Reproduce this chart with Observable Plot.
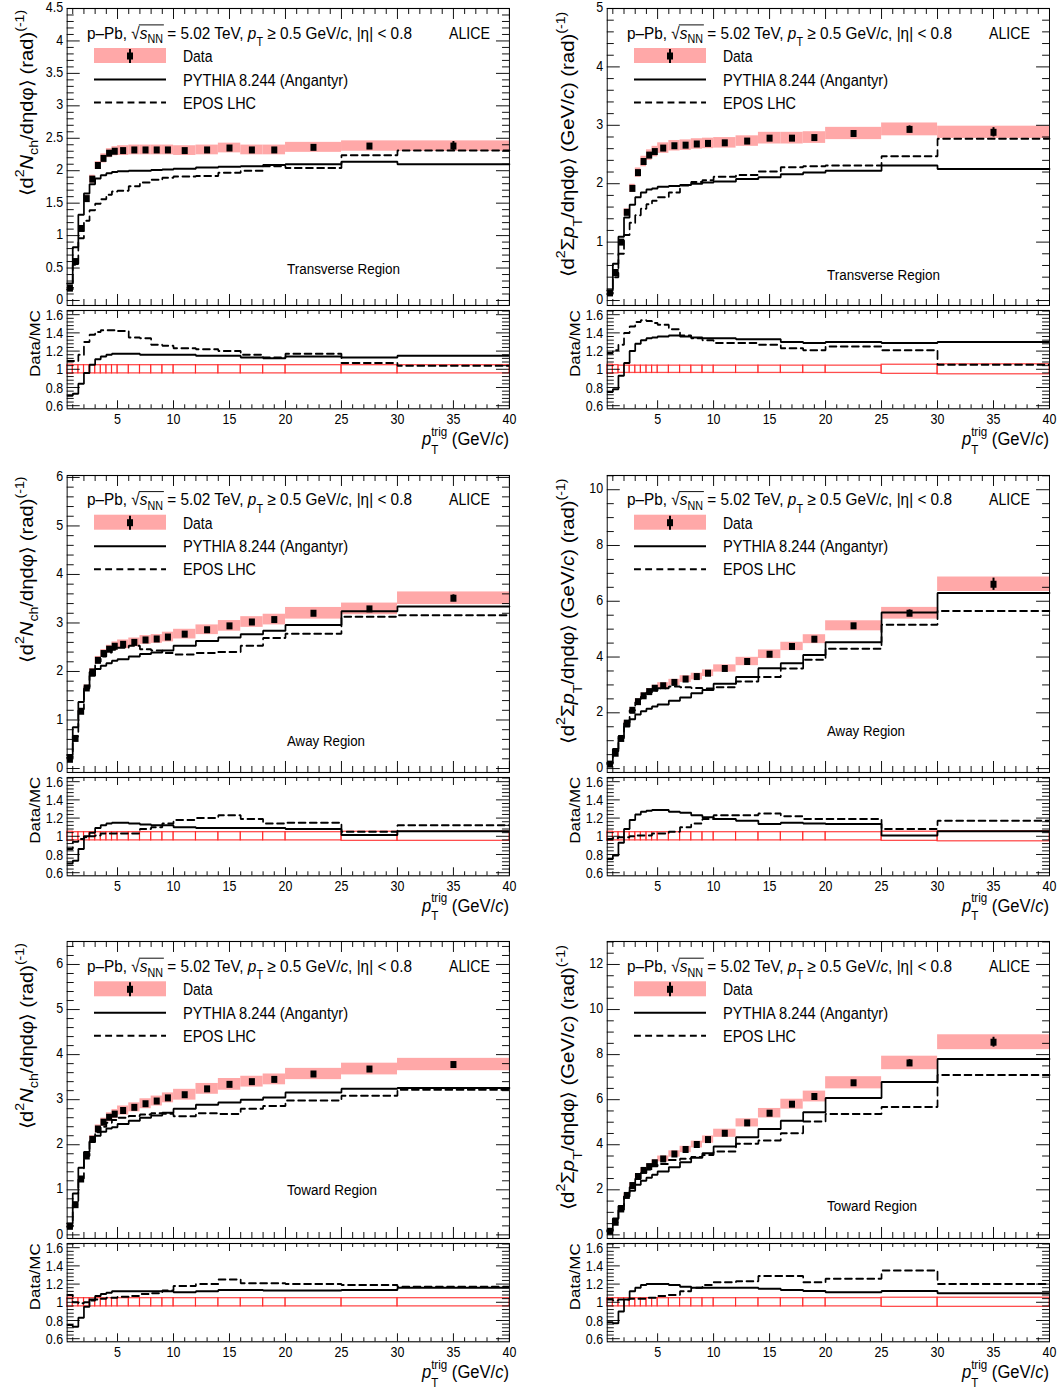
<!DOCTYPE html>
<html><head><meta charset="utf-8">
<script src="https://cdn.jsdelivr.net/npm/d3@7"></script>
<script src="https://cdn.jsdelivr.net/npm/@observablehq/plot@0.6"></script>
<style>
html,body{margin:0;padding:0;background:#fff;}
#wrap{position:relative;width:1059px;height:1394px;overflow:hidden;background:#fff;}
#stage{position:absolute;left:0;top:0;width:1231.4px;height:1394px;transform:scaleX(0.86);transform-origin:0 0;}
#stage svg{position:absolute;}
</style></head><body><div id="wrap"><div id="stage"></div></div>
<script>
// ---------------- data ----------------
const binLow  = [0.5,1,1.5,2,2.5,3,3.5,4,4.5,5,6,7,8,9,10,12,14,16,18,20,25,30];
const binHigh = [1,1.5,2,2.5,3,3.5,4,4.5,5,6,7,8,9,10,12,14,16,18,20,25,30,40];
const xMajorTicks = [5,10,15,20,25,30,35,40];
const ratioTicks = [0.6,0.8,1,1.2,1.4,1.6];
const yTicks_transN = [0,0.5,1,1.5,2,2.5,3,3.5,4,4.5];
const yTicks_transPt = [0,1,2,3,4,5];
const yTicks_awayN = [0,1,2,3,4,5,6];
const yTicks_awayPt = [0,2,4,6,8,10];
const yTicks_towN = [0,1,2,3,4,5,6];
const yTicks_towPt = [0,2,4,6,8,10,12];

// Transverse, number density
const transN_data   = [0.19,0.60,1.11,1.57,1.87,2.08,2.19,2.27,2.30,2.31,2.32,2.32,2.32,2.32,2.31,2.32,2.35,2.32,2.32,2.36,2.38,2.38];
const transN_sys    = [0.01,0.02,0.04,0.05,0.06,0.06,0.07,0.07,0.07,0.075,0.075,0.075,0.075,0.075,0.075,0.075,0.075,0.075,0.075,0.077,0.08,0.08];
const transN_stat   = [0,0,0,0,0,0,0,0,0,0,0,0,0,0,0,0,0.01,0.01,0.01,0.02,0.04,0.07];
const transN_pythia = [0.26,0.82,1.32,1.65,1.79,1.88,1.93,1.96,1.98,1.99,2.00,2.00,2.01,2.02,2.03,2.05,2.06,2.07,2.09,2.10,2.14,2.10];
const transN_epos   = [0.17,0.55,0.96,1.23,1.39,1.49,1.56,1.63,1.68,1.69,1.76,1.82,1.86,1.89,1.91,1.92,1.97,2.00,2.07,2.04,2.24,2.31];
const transN_ratioPythia = [0.71,0.73,0.84,0.96,1.05,1.11,1.14,1.16,1.17,1.17,1.17,1.16,1.16,1.16,1.16,1.15,1.15,1.13,1.12,1.14,1.13,1.15];
const transN_ratioEpos   = [1.09,1.09,1.16,1.30,1.38,1.41,1.43,1.43,1.43,1.42,1.35,1.34,1.27,1.26,1.23,1.22,1.20,1.16,1.13,1.17,1.07,1.04];
const transN_ratioErr    = [0.05,0.045,0.045,0.045,0.045,0.045,0.045,0.045,0.045,0.045,0.045,0.045,0.045,0.045,0.045,0.045,0.045,0.045,0.045,0.045,0.045,0.045];

// Transverse, summed pT density
const transPt_data   = [0.13,0.48,1.00,1.51,1.92,2.19,2.38,2.49,2.55,2.61,2.65,2.66,2.68,2.69,2.70,2.73,2.78,2.78,2.79,2.86,2.93,2.88];
const transPt_sys    = [0.01,0.02,0.04,0.06,0.07,0.08,0.09,0.09,0.09,0.09,0.09,0.09,0.09,0.09,0.09,0.09,0.10,0.10,0.10,0.105,0.11,0.105];
const transPt_stat   = [0,0,0,0,0,0,0,0,0,0,0,0,0,0,0,0,0.01,0.01,0.02,0.03,0.06,0.08];
const transPt_pythia = [0.17,0.63,1.09,1.42,1.64,1.77,1.85,1.90,1.92,1.95,1.96,1.98,2.00,2.02,2.04,2.08,2.11,2.16,2.19,2.22,2.31,2.25];
const transPt_epos   = [0.11,0.40,0.80,1.12,1.33,1.46,1.57,1.65,1.71,1.77,1.85,1.97,2.03,2.06,2.12,2.15,2.21,2.28,2.30,2.31,2.47,2.77];
const transPt_ratioPythia = [0.75,0.78,0.93,1.07,1.20,1.28,1.32,1.34,1.35,1.36,1.37,1.36,1.35,1.34,1.34,1.33,1.33,1.30,1.29,1.30,1.29,1.30];
const transPt_ratioEpos   = [1.18,1.21,1.27,1.40,1.47,1.52,1.54,1.53,1.51,1.49,1.44,1.37,1.34,1.32,1.29,1.29,1.27,1.23,1.21,1.25,1.21,1.05];
const transPt_ratioErr    = [0.05,0.045,0.04,0.04,0.04,0.04,0.04,0.04,0.04,0.04,0.04,0.04,0.04,0.04,0.04,0.04,0.04,0.04,0.04,0.04,0.05,0.055];

// Away, number density
const awayN_data   = [0.19,0.62,1.18,1.66,1.99,2.23,2.37,2.46,2.52,2.56,2.60,2.65,2.67,2.71,2.77,2.86,2.94,3.02,3.07,3.20,3.29,3.51];
const awayN_sys    = [0.01,0.03,0.05,0.06,0.07,0.08,0.08,0.08,0.09,0.09,0.09,0.09,0.09,0.10,0.10,0.10,0.11,0.11,0.11,0.12,0.12,0.13];
const awayN_stat   = [0,0,0,0,0,0,0,0,0,0,0,0,0,0,0,0,0.01,0.01,0.02,0.03,0.04,0.07];
const awayN_pythia = [0.28,0.85,1.37,1.65,1.91,2.05,2.12,2.17,2.22,2.25,2.31,2.36,2.39,2.43,2.53,2.63,2.70,2.77,2.84,2.96,3.24,3.34];
const awayN_epos   = [0.22,0.66,1.22,1.68,1.99,2.20,2.31,2.39,2.45,2.49,2.53,2.46,2.43,2.38,2.35,2.38,2.40,2.53,2.69,2.78,3.13,3.16];
const awayN_ratioPythia = [0.70,0.73,0.86,1.00,1.04,1.09,1.12,1.14,1.15,1.15,1.14,1.13,1.12,1.12,1.10,1.09,1.09,1.09,1.09,1.08,1.015,1.055];
const awayN_ratioEpos   = [0.86,0.94,0.97,0.99,1.00,1.01,1.03,1.03,1.03,1.03,1.03,1.08,1.10,1.14,1.18,1.20,1.23,1.19,1.14,1.15,1.05,1.12];
const awayN_ratioErr    = [0.05,0.045,0.045,0.045,0.045,0.045,0.045,0.045,0.045,0.045,0.045,0.045,0.045,0.045,0.045,0.045,0.045,0.045,0.045,0.045,0.05,0.05];

// Away, summed pT density
const awayPt_data   = [0.16,0.55,1.08,1.63,2.09,2.40,2.61,2.76,2.88,2.97,3.09,3.21,3.30,3.42,3.59,3.84,4.10,4.38,4.64,5.12,5.57,6.61];
const awayPt_sys    = [0.01,0.03,0.05,0.07,0.09,0.10,0.10,0.11,0.11,0.11,0.11,0.12,0.12,0.12,0.13,0.15,0.155,0.15,0.16,0.18,0.21,0.26];
const awayPt_stat   = [0,0,0,0,0,0,0,0,0,0,0,0,0,0,0.01,0.02,0.02,0.03,0.04,0.06,0.12,0.22];
const awayPt_pythia = [0.21,0.70,1.16,1.51,1.77,1.94,2.06,2.15,2.23,2.30,2.43,2.55,2.70,2.82,3.04,3.28,3.60,3.78,4.07,4.53,5.60,6.30];
const awayPt_epos   = [0.165,0.56,1.09,1.64,2.09,2.38,2.58,2.73,2.80,2.88,2.94,2.92,2.89,2.87,2.92,3.12,3.28,3.59,3.90,4.30,5.16,5.65];
const awayPt_ratioPythia = [0.75,0.79,0.93,1.08,1.18,1.24,1.27,1.28,1.29,1.29,1.27,1.26,1.23,1.21,1.19,1.17,1.135,1.15,1.14,1.135,1.01,1.055];
const awayPt_ratioEpos   = [0.97,0.98,0.99,0.99,1.00,1.01,1.01,1.01,1.03,1.03,1.05,1.10,1.14,1.19,1.23,1.23,1.25,1.22,1.19,1.19,1.08,1.17];
const awayPt_ratioErr    = [0.05,0.045,0.045,0.045,0.045,0.045,0.045,0.045,0.045,0.045,0.045,0.045,0.045,0.045,0.045,0.045,0.045,0.045,0.045,0.045,0.05,0.055];

// Toward, number density
const towN_data   = [0.19,0.67,1.24,1.75,2.12,2.35,2.50,2.61,2.68,2.76,2.83,2.91,2.97,3.04,3.11,3.24,3.34,3.40,3.45,3.57,3.68,3.78];
const towN_sys    = [0.01,0.03,0.05,0.07,0.08,0.09,0.09,0.10,0.10,0.10,0.10,0.11,0.11,0.11,0.12,0.12,0.13,0.12,0.12,0.125,0.13,0.137];
const towN_stat   = [0,0,0,0,0,0,0,0,0,0,0,0,0,0,0,0,0.01,0.01,0.01,0.02,0.03,0.05];
const towN_pythia = [0.25,0.92,1.49,1.84,2.06,2.20,2.29,2.36,2.39,2.46,2.53,2.60,2.65,2.71,2.80,2.89,2.94,3.00,3.05,3.16,3.24,3.26];
const towN_epos   = [0.18,0.67,1.25,1.75,2.08,2.28,2.40,2.49,2.55,2.60,2.64,2.67,2.70,2.69,2.63,2.70,2.68,2.80,2.86,2.98,3.09,3.22];
const towN_ratioPythia = [0.75,0.73,0.83,0.95,1.03,1.07,1.09,1.105,1.12,1.12,1.12,1.12,1.12,1.12,1.11,1.12,1.135,1.135,1.13,1.13,1.135,1.16];
const towN_ratioEpos   = [1.08,1.00,0.99,1.00,1.02,1.03,1.04,1.05,1.05,1.06,1.07,1.09,1.10,1.13,1.18,1.20,1.25,1.21,1.21,1.20,1.19,1.17];
const towN_ratioErr    = [0.05,0.045,0.045,0.045,0.045,0.045,0.045,0.045,0.045,0.045,0.045,0.045,0.045,0.045,0.045,0.045,0.045,0.045,0.045,0.045,0.045,0.045];

// Toward, summed pT density
const towPt_data   = [0.16,0.56,1.15,1.75,2.19,2.59,2.86,3.03,3.20,3.37,3.59,3.79,4.01,4.23,4.51,4.97,5.40,5.80,6.14,6.75,7.63,8.55];
const towPt_sys    = [0.01,0.03,0.06,0.08,0.10,0.11,0.12,0.12,0.13,0.13,0.14,0.14,0.15,0.16,0.18,0.18,0.21,0.22,0.24,0.27,0.30,0.33];
const towPt_stat   = [0,0,0,0,0,0,0,0,0,0,0,0,0,0,0.01,0.02,0.03,0.04,0.05,0.08,0.15,0.22];
const towPt_pythia = [0.21,0.73,1.28,1.70,1.96,2.23,2.40,2.53,2.67,2.81,3.00,3.22,3.42,3.62,3.92,4.33,4.70,5.07,5.44,6.08,6.78,7.81];
const towPt_epos   = [0.155,0.55,1.12,1.70,2.11,2.49,2.75,2.90,3.05,3.15,3.32,3.38,3.46,3.55,3.70,4.04,4.19,4.51,5.03,5.37,5.67,7.10];
const towPt_ratioPythia = [0.78,0.77,0.90,1.03,1.12,1.16,1.19,1.20,1.20,1.20,1.19,1.17,1.16,1.16,1.16,1.16,1.15,1.135,1.125,1.11,1.125,1.10];
const towPt_ratioEpos   = [1.03,1.02,1.03,1.03,1.04,1.04,1.04,1.05,1.05,1.07,1.08,1.12,1.16,1.19,1.22,1.23,1.29,1.29,1.22,1.26,1.35,1.20];
const towPt_ratioErr    = [0.045,0.045,0.045,0.045,0.045,0.045,0.045,0.045,0.045,0.045,0.045,0.045,0.045,0.045,0.045,0.045,0.045,0.045,0.045,0.045,0.05,0.05];

// ---------------- layout ----------------
const S = 0.86;                       // horizontal squeeze of the reference
const PINK = "#ffa8a8";
const FONT = "'Liberation Sans', Arial, Helvetica, sans-serif";
const colX = [0, 540];
const rowY = [0, 466.7, 933.3];
const stage = document.getElementById("stage");

const panels = [
  {r:0,c:0,kind:"N", region:"Transverse Region", regBase:274, regW:113, yDomain:[-0.077,4.5], yMajor:yTicks_transN, yMinor:0.1,
   data:transN_data, sys:transN_sys, stat:transN_stat, pythia:transN_pythia, epos:transN_epos, rp:transN_ratioPythia, re:transN_ratioEpos, rerr:transN_ratioErr},
  {r:0,c:1,kind:"Pt", region:"Transverse Region", regBase:280, regW:113, yDomain:[-0.085,5], yMajor:yTicks_transPt, yMinor:0.2,
   data:transPt_data, sys:transPt_sys, stat:transPt_stat, pythia:transPt_pythia, epos:transPt_epos, rp:transPt_ratioPythia, re:transPt_ratioEpos, rerr:transPt_ratioErr},
  {r:1,c:0,kind:"N", region:"Away Region", regBase:279.5, regW:78, yDomain:[-0.082,6.04], yMajor:yTicks_awayN, yMinor:0.2,
   data:awayN_data, sys:awayN_sys, stat:awayN_stat, pythia:awayN_pythia, epos:awayN_epos, rp:awayN_ratioPythia, re:awayN_ratioEpos, rerr:awayN_ratioErr},
  {r:1,c:1,kind:"Pt", region:"Away Region", regBase:269.5, regW:78, yDomain:[-0.14,10.51], yMajor:yTicks_awayPt, yMinor:0.5,
   data:awayPt_data, sys:awayPt_sys, stat:awayPt_stat, pythia:awayPt_pythia, epos:awayPt_epos, rp:awayPt_ratioPythia, re:awayPt_ratioEpos, rerr:awayPt_ratioErr},
  {r:2,c:0,kind:"N", region:"Toward Region", regBase:262, regW:90, yDomain:[-0.08,6.51], yMajor:yTicks_towN, yMinor:0.2,
   data:towN_data, sys:towN_sys, stat:towN_stat, pythia:towN_pythia, epos:towN_epos, rp:towN_ratioPythia, re:towN_ratioEpos, rerr:towN_ratioErr},
  {r:2,c:1,kind:"Pt", region:"Toward Region", regBase:277.4, regW:90, yDomain:[-0.16,13.02], yMajor:yTicks_towPt, yMinor:0.5,
   data:towPt_data, sys:towPt_sys, stat:towPt_stat, pythia:towPt_pythia, epos:towPt_epos, rp:towPt_ratioPythia, re:towPt_ratioEpos, rerr:towPt_ratioErr}
];

const xMinorTicks = d3.range(1, 40).filter(v => v % 5 !== 0);
const fmt = v => String(+(+v).toFixed(2));
function minorTicks(lo, hi, step, major) {
  const out = [];
  for (let k = Math.ceil(lo/step - 1e-9); k*step <= hi + 1e-9; k++) {
    const v = +(k*step).toFixed(4);
    if (!major.some(m => Math.abs(m - v) < 1e-6)) out.push(v);
  }
  return out;
}
function stepPts(arr) {
  const pts = binLow.map((lo, i) => ({x: lo, y: arr[i]}));
  pts.push({x: binHigh[binHigh.length - 1], y: arr[arr.length - 1]});
  return pts;
}

const W = 519 / S, ML = 66.7 / S, MR = W - 509 / S, FW = W - ML - MR;
const YTmaj = 13 / S, YTmin = 7 / S;

function tickMarks(FH, yMajor, yMinor, xMaj, xMin) {
  const k = {stroke: "black", strokeWidth: 1};
  return [
    Plot.ruleY(yMajor, {...k, insetRight: FW - YTmaj}),
    Plot.ruleY(yMajor, {...k, insetLeft: FW - YTmaj}),
    Plot.ruleY(yMinor, {...k, insetRight: FW - YTmin}),
    Plot.ruleY(yMinor, {...k, insetLeft: FW - YTmin}),
    Plot.ruleX(xMajorTicks, {...k, insetTop: FH - xMaj}),
    Plot.ruleX(xMajorTicks, {...k, insetBottom: FH - xMaj}),
    Plot.ruleX(xMinorTicks, {...k, insetTop: FH - xMin}),
    Plot.ruleX(xMinorTicks, {...k, insetBottom: FH - xMin})
  ];
}

function mainPlot(p) {
  const H = 305, MT = 8, FH = H - MT;
  const rows = binLow.map((lo, i) => ({lo, hi: binHigh[i], x: (lo + binHigh[i]) / 2, v: p.data[i], s: p.sys[i], st: p.stat[i]}));
  const yMin = minorTicks(0, p.yDomain[1], p.yMinor, p.yMajor);
  const svg = Plot.plot({
    width: W, height: H, marginLeft: ML, marginRight: MR, marginTop: MT, marginBottom: 0,
    x: {domain: [0.5, 40], axis: null},
    y: {domain: p.yDomain, axis: null},
    style: {fontFamily: FONT, fontSize: "14.5px", color: "black", background: "transparent", overflow: "visible"},
    marks: [
      Plot.rect(rows, {x1: "lo", x2: "hi", y1: d => d.v - d.s, y2: d => d.v + d.s, fill: PINK}),
      Plot.line(stepPts(p.pythia), {x: "x", y: "y", curve: "step-after", stroke: "black", strokeWidth: 2, strokeLinejoin: "miter"}),
      Plot.line(stepPts(p.epos), {x: "x", y: "y", curve: "step-after", stroke: "black", strokeWidth: 2, strokeDasharray: "8,5", strokeLinejoin: "miter"}),
      Plot.ruleX(rows.filter(d => d.st > 0), {x: "x", y1: d => d.v - d.st, y2: d => d.v + d.st, stroke: "black", strokeWidth: 2.3}),
      Plot.dot(rows, {x: "x", y: "v", symbol: "square", r: 3.95, fill: "black", stroke: "none"}),
      ...tickMarks(FH, p.yMajor, yMin, 11, 6),
      Plot.frame({stroke: "black", strokeWidth: 1.1}),
      Plot.text(p.yMajor, {y: d => d, text: fmt, frameAnchor: "left", textAnchor: "end", dx: -4.7, dy: -1, lineAnchor: "middle", fontSize: 14.5, fill: "black"})
    ]
  });
  svg.style.left = (colX[p.c] / S) + "px";
  svg.style.top = rowY[p.r] + "px";
  stage.appendChild(svg);
}

function ratioPlot(p) {
  const H = 160, MT = 5, FH = 98.3, MB = H - MT - FH;
  const rows = binLow.map((lo, i) => ({lo, hi: binHigh[i], e: p.rerr[i]}));
  const yMin = minorTicks(0.6, 1.646, 0.04, ratioTicks);
  const svg = Plot.plot({
    width: W, height: H, marginLeft: ML, marginRight: MR, marginTop: MT, marginBottom: MB,
    x: {domain: [0.5, 40], axis: null},
    y: {domain: [0.566, 1.646], axis: null},
    style: {fontFamily: FONT, fontSize: "14.5px", color: "black", background: "transparent", overflow: "visible"},
    marks: [
      Plot.rect(rows, {x1: "lo", x2: "hi", y1: d => 1 - d.e, y2: d => 1 + d.e, fill: "none", stroke: "#ff2020", strokeOpacity: 0.8, strokeWidth: 1.3}),
      Plot.line(stepPts(p.rp), {x: "x", y: "y", curve: "step-after", stroke: "black", strokeWidth: 2, strokeLinejoin: "miter", clip: true}),
      Plot.line(stepPts(p.re), {x: "x", y: "y", curve: "step-after", stroke: "black", strokeWidth: 2, strokeDasharray: "8,5", strokeLinejoin: "miter", clip: true}),
      ...tickMarks(FH, ratioTicks, yMin, 8, 4),
      Plot.frame({stroke: "black", strokeWidth: 1.1}),
      Plot.text(ratioTicks, {y: d => d, text: fmt, frameAnchor: "left", textAnchor: "end", dx: -4.7, dy: 0.5, lineAnchor: "middle", fontSize: 14.5, fill: "black"}),
      Plot.text(xMajorTicks, {x: d => d, text: fmt, frameAnchor: "bottom", dy: 11, lineAnchor: "middle", fontSize: 14.5, fill: "black"})
    ]
  });
  svg.style.left = (colX[p.c] / S) + "px";
  svg.style.top = (rowY[p.r] + 305) + "px";
  stage.appendChild(svg);
}

panels.forEach(p => { mainPlot(p); ratioPlot(p); });

// ---------------- overlay: texts and legend ----------------
const ov = d3.create("svg").attr("width", 1059 / S).attr("height", 1394)
  .style("left", "0px").style("top", "0px").style("font-family", FONT).style("pointer-events", "none");
stage.appendChild(ov.node());

function build(parent, parts, size) {
  const t = parent.append("text").attr("font-size", size).style("white-space", "pre").attr("fill", "black");
  let shift = 0, prev = null;
  for (const [s, st = ""] of parts) {
    const ts = t.append("tspan").text(s);
    let target = 0, fs = size;
    if (st.includes("b")) { target = 0.28 * size; fs = 0.7 * size; }
    if (st.includes("B")) { target = 0.45 * size; fs = 0.7 * size; }
    if (st.includes("p")) { target = -0.5 * size; fs = 0.7 * size; }
    if (fs !== size) ts.attr("font-size", fs);
    if (Math.abs(target - shift) > 1e-6) ts.attr("dy", target - shift);
    shift = target;
    if (st.includes("i")) ts.attr("font-style", "italic");
    if (st.includes("s") && prev) ts.attr("dx", -prev.node().getComputedTextLength());
    prev = ts;
  }
  return t;
}
function place(parts, o) {
  const g = ov.append("g");
  const t = build(g, parts, o.size);
  const bb = t.node().getBBox();
  let k = 1;
  if (o.fit) k = o.rot ? o.fit / bb.width : (o.fit / S) / bb.width;
  if (o.rot) {
    g.attr("transform", `translate(${o.x / S},${o.y}) rotate(-90) scale(${k},1)`);
  } else {
    let x = o.x / S - bb.x * k;
    if (o.right !== undefined) x = o.right / S - (bb.x + bb.width) * k;
    g.attr("transform", `translate(${x},${o.y}) scale(${k},1)`);
  }
  return {g, t, k};
}

const titleN = [["⟨"],["d"],["2","p"],["N","i"],["ch","b"],["/dηdφ⟩ (rad)"],["(-1)","p"]];
const titlePt = [["⟨"],["d"],["2","p"],["Σ"],["p","i"],["T","B"],["/dηdφ⟩ (GeV/"],["c","i"],[") (rad)"],["(-1)","p"]];
const header = [["p–Pb, "],["√"],["s","i"],["NN","b"],[" = 5.02 TeV, "],["p","i"],["T","B"],[" ≥ 0.5 GeV/"],["c","i"],[", |η| < 0.8"]];
const xTitle = [["p","i"],["T","B"],["trig","ps"],[" (GeV/"],["c","i"],[")"]];

for (const p of panels) {
  const cx = colX[p.c], ry = rowY[p.r];
  // header with sqrt overline
  const h = place(header, {x: cx + 87, y: ry + 38.5, size: 17, fit: 325});
  const tn = h.t.node();
  const a = tn.getStartPositionOfChar(7), b = tn.getEndPositionOfChar(9);
  h.g.append("line").attr("x1", a.x - 1).attr("x2", b.x + 1).attr("y1", -13.6).attr("y2", -13.6).attr("stroke", "black").attr("stroke-width", 1);
  place([["ALICE"]], {x: cx + 449, y: ry + 38.5, size: 17, fit: 41});
  // legend
  const X = v => (cx + v) / S;
  ov.append("rect").attr("x", X(94)).attr("y", ry + 48).attr("width", X(166) - X(94)).attr("height", 15).attr("fill", PINK);
  ov.append("line").attr("x1", X(130)).attr("x2", X(130)).attr("y1", ry + 49).attr("y2", ry + 63).attr("stroke", "black").attr("stroke-width", 2.3);
  ov.append("rect").attr("x", X(130) - 3.5).attr("y", ry + 52.5).attr("width", 7).attr("height", 7).attr("fill", "black");
  ov.append("line").attr("x1", X(94)).attr("x2", X(166)).attr("y1", ry + 79.5).attr("y2", ry + 79.5).attr("stroke", "black").attr("stroke-width", 2);
  ov.append("line").attr("x1", X(94)).attr("x2", X(166)).attr("y1", ry + 102.5).attr("y2", ry + 102.5).attr("stroke", "black").attr("stroke-width", 2).attr("stroke-dasharray", "8,5");
  place([["Data"]], {x: cx + 183, y: ry + 62, size: 17, fit: 29.7});
  place([["PYTHIA 8.244 (Angantyr)"]], {x: cx + 183, y: ry + 85.5, size: 17, fit: 165});
  place([["EPOS LHC"]], {x: cx + 183, y: ry + 108.5, size: 17, fit: 73});
  // region
  place([[p.region]], {x: cx + 287, y: ry + p.regBase, size: 15.5, fit: p.regW});
  // axis titles
  if (p.kind === "N") place(titleN, {x: cx + 33, y: ry + 196, size: 21, rot: true, fit: 188});
  else place(titlePt, {x: cx + 34, y: ry + 277, size: 21, rot: true, fit: 267});
  place([["Data/MC"]], {x: cx + 40, y: ry + 377, size: 18, rot: true, fit: 67});
  place(xTitle, {right: cx + 509, y: ry + 445, size: 19, fit: 88});
}
</script></body></html>
